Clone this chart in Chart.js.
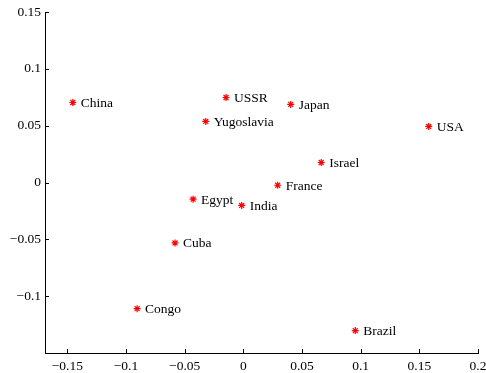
<!DOCTYPE html>
<html>
<head>
<meta charset="utf-8">
<script src="https://cdn.jsdelivr.net/npm/chart.js@4/dist/chart.umd.min.js"></script>
<style>
html,body{margin:0;padding:0;background:#fff;}
canvas{display:block;}
</style>
</head>
<body>
<canvas id="c" width="486" height="373"></canvas>
<script>
const countries = ["China","USSR","Yugoslavia","Japan","USA","Israel","France","Egypt","India","Cuba","Congo","Brazil"];
const xValues = [-0.1453,-0.0147,-0.0320,0.0404,0.1580,0.0664,0.0293,-0.0428,-0.0014,-0.0582,-0.0905,0.0954];
const yValues = [0.0704,0.0748,0.0537,0.0687,0.0493,0.0176,-0.0024,-0.0147,-0.0202,-0.0532,-0.1110,-0.1303];
const xTicks = [-0.15,-0.1,-0.05,0,0.05,0.1,0.15,0.2];
const yTicks = [-0.15,-0.1,-0.05,0,0.05,0.1,0.15];
const yHiddenLabels = [-0.15];

const points = countries.map((n,i)=>({x:xValues[i],y:yValues[i]}));
const round2 = v => parseFloat(Number(v).toFixed(2));
const fmt = v => { const r = round2(v); return (r<0?'\u2212':'') + String(Math.abs(r)); };
const FONT = "'Liberation Serif','Times New Roman',serif";

const labelPlugin = {
  id:'labels',
  afterDatasetsDraw(chart){
    const ctx = chart.ctx;
    const meta = chart.getDatasetMeta(0);
    ctx.save();
    ctx.font = "13.5px " + FONT;
    ctx.fillStyle = "#000";
    ctx.textAlign = "left";
    ctx.textBaseline = "alphabetic";
    meta.data.forEach((el,i)=>{
      ctx.fillText(countries[i], el.x + 8, el.y + 4.5);
    });
    ctx.restore();
  }
};
const tickPlugin = {
  id:'inticks',
  afterDraw(chart){
    const ctx = chart.ctx;
    const a = chart.chartArea;
    const xs = chart.scales.x, ys = chart.scales.y;
    ctx.save();
    ctx.strokeStyle = "#000";
    ctx.lineWidth = 1;
    ctx.beginPath();
    xTicks.forEach(v=>{
      const px = Math.round(xs.getPixelForValue(v)) + 0.5;
      ctx.moveTo(px, a.bottom); ctx.lineTo(px, a.bottom - 4);
    });
    yTicks.forEach(v=>{
      const py = Math.round(ys.getPixelForValue(v)) + 0.5;
      ctx.moveTo(a.left, py); ctx.lineTo(a.left + 4, py);
    });
    ctx.stroke();
    ctx.restore();
  }
};
const bgPlugin = {
  id:'bg',
  beforeDraw(chart){
    const ctx = chart.ctx;
    ctx.save(); ctx.fillStyle="#fff"; ctx.fillRect(0,0,chart.width,chart.height); ctx.restore();
  }
};

new Chart(document.getElementById('c'), {
  type:'scatter',
  data:{datasets:[{
    data: points,
    pointStyle:'star',
    radius:3.5,
    hoverRadius:3.5,
    borderColor:'#ff0000',
    backgroundColor:'#ff0000',
    borderWidth:1.2
  }]},
  options:{
    responsive:false,
    animation:false,
    devicePixelRatio:1,
    layout:{padding:{top:12,right:8,bottom:0,left:0}},
    plugins:{legend:{display:false},tooltip:{enabled:false}},
    scales:{
      x:{
        type:'linear', min:-0.169, max:0.2,
        afterFit(s){ s.height = 20; s.paddingLeft = 0; s.paddingRight = 0; },
        grid:{display:false, drawTicks:false},
        border:{display:true, color:'#000', width:1},
        ticks:{
          stepSize:0.05, includeBounds:false, autoSkip:false, maxRotation:0,
          color:'#000', font:{family:FONT, size:13.5}, padding:5,
          callback:(v)=>fmt(v)
        }
      },
      y:{
        type:'linear', min:-0.15, max:0.15,
        afterFit(s){ s.width = 45; s.paddingTop = 0; s.paddingBottom = 0; },
        grid:{display:false, drawTicks:false},
        border:{display:true, color:'#000', width:1},
        ticks:{
          stepSize:0.05, includeBounds:false, autoSkip:false,
          color:'#000', font:{family:FONT, size:13.5}, padding:4,
          callback:(v)=> yHiddenLabels.includes(round2(v)) ? '' : fmt(v)
        }
      }
    }
  },
  plugins:[bgPlugin, labelPlugin, tickPlugin]
});
</script>
</body>
</html>
